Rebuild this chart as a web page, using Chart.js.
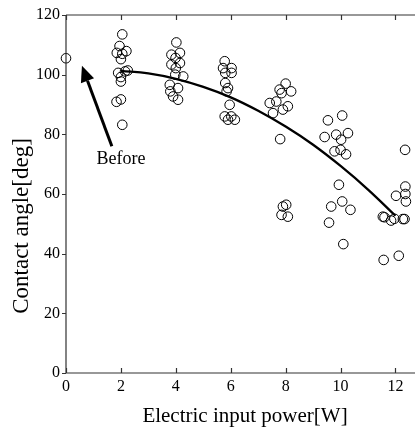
<!DOCTYPE html>
<html>
<head>
<meta charset="utf-8">
<script src="https://cdn.jsdelivr.net/npm/chart.js@4"></script>
<style>
  html, body { margin: 0; padding: 0; background: #fff; }
  #wrap { width: 415px; height: 428px; }
</style>
</head>
<body>
<div id="wrap"><canvas id="angleChart" width="415" height="428"></canvas></div>
<script>
const powerX = [
  0,
  2.05, 1.95, 1.85, 2.2, 2.0, 2.05, 1.9, 2.15, 2.0, 2.0, 1.84, 2.0, 2.05, 2.25,
  4.02, 3.84, 4.15, 3.99, 3.84, 4.15, 4.0, 4.27, 3.98, 3.78, 4.08, 3.8, 3.9, 4.08,
  5.78, 5.72, 6.03, 5.8, 6.03, 5.8, 5.9, 5.85, 5.96, 5.78, 6.02, 5.9, 6.15,
  8.0, 7.78, 8.2, 7.85, 7.66, 7.42, 8.08, 7.9, 7.54, 7.8, 8.02, 7.9, 7.85, 8.08,
  9.54, 10.06, 9.42, 9.84, 10.27, 10.02, 9.78, 10.0, 10.2, 9.94, 9.66, 10.06, 10.36, 9.58, 10.1,
  12.35, 12.36, 12.02, 12.36, 12.38, 11.54, 11.6, 11.84, 11.96, 12.27, 12.33, 11.57, 12.12
];
const angleY = [
  105.5,
  113.5, 109.6, 107.3, 107.9, 105.2, 107.0, 100.6, 101.1, 99.2, 97.7, 90.9, 91.7, 83.2, 101.4,
  110.8, 106.7, 107.3, 105.6, 103.4, 103.9, 102.2, 99.4, 100.0, 96.6, 95.5, 94.4, 92.7, 91.6,
  104.5, 102.2, 102.2, 100.6, 100.6, 97.2, 95.5, 94.4, 89.9, 86.0, 86.0, 84.9, 84.9,
  97.0, 95.0, 94.4, 93.8, 91.0, 90.5, 89.4, 88.3, 87.1, 78.4, 56.4, 55.8, 53.0, 52.4,
  84.7, 86.3, 79.1, 79.9, 80.4, 78.2, 74.3, 74.8, 73.3, 63.1, 55.8, 57.5, 54.7, 50.4, 43.2,
  74.8, 62.5, 59.4, 60.0, 57.5, 52.4, 52.2, 51.1, 51.7, 51.6, 51.6, 37.9, 39.3
];
// fitted curve, read at integer powers
const fitX = [2, 3, 4, 5, 6, 7, 8, 9, 10, 11, 12];
const fitY = [101.3, 100.4, 98.6, 95.9, 92.4, 87.9, 82.6, 76.5, 69.4, 61.5, 52.7];

const xTicks = [0, 2, 4, 6, 8, 10, 12];
const yTicks = [0, 20, 40, 60, 80, 100, 120];

const arrowFrom = { x: 1.67, y: 76 };
const arrowTo = { x: 0.58, y: 103 };
const noteLabel = 'Before';
const notePos = { x: 2.0, y: 71.5 };

const xTitle = 'Electric input power[W]';
const yTitle = 'Contact angle[deg]';

const serif = "'Liberation Serif', 'DejaVu Serif', serif";

const scatterPts = powerX.map((x, i) => ({ x: x, y: angleY[i] }));
const fitPts = fitX.map((x, i) => ({ x: x, y: fitY[i] }));

// frame, inward ticks, titles and the arrow note
const extrasPlugin = {
  id: 'extras',
  afterDatasetsDraw(chart) {
    const ctx = chart.ctx;
    const xs = chart.scales.x, ys = chart.scales.y;
    const area = chart.chartArea;
    ctx.save();
    ctx.strokeStyle = '#333';
    ctx.lineWidth = 1.2;
    ctx.beginPath();
    ctx.moveTo(area.left, area.top);
    ctx.lineTo(chart.width, area.top);
    ctx.moveTo(area.left, area.top);
    ctx.lineTo(area.left, area.bottom);
    ctx.lineTo(chart.width, area.bottom);
    xTicks.forEach(v => {
      const px = Math.round(xs.getPixelForValue(v)) + 0.5;
      ctx.moveTo(px, area.bottom);
      ctx.lineTo(px, area.bottom - 5);
      ctx.moveTo(px, area.top);
      ctx.lineTo(px, area.top + 5);
    });
    yTicks.forEach(v => {
      const py = Math.round(ys.getPixelForValue(v)) + 0.5;
      ctx.moveTo(area.left, py);
      ctx.lineTo(area.left - 4, py);
    });
    ctx.stroke();

    // arrow
    const x1 = xs.getPixelForValue(arrowFrom.x), y1 = ys.getPixelForValue(arrowFrom.y);
    const x2 = xs.getPixelForValue(arrowTo.x), y2 = ys.getPixelForValue(arrowTo.y);
    const ang = Math.atan2(y2 - y1, x2 - x1);
    const headLen = 16, headW = 7;
    const bx = x2 - headLen * Math.cos(ang), by = y2 - headLen * Math.sin(ang);
    ctx.strokeStyle = '#000';
    ctx.fillStyle = '#000';
    ctx.lineWidth = 3;
    ctx.beginPath();
    ctx.moveTo(x1, y1);
    ctx.lineTo(bx, by);
    ctx.stroke();
    ctx.beginPath();
    ctx.moveTo(x2, y2);
    ctx.lineTo(bx + headW * Math.sin(ang), by - headW * Math.cos(ang));
    ctx.lineTo(bx - headW * Math.sin(ang), by + headW * Math.cos(ang));
    ctx.closePath();
    ctx.fill();

    ctx.font = '18px ' + serif;
    ctx.textAlign = 'center';
    ctx.textBaseline = 'middle';
    ctx.fillText(noteLabel, xs.getPixelForValue(notePos.x), ys.getPixelForValue(notePos.y));

    // axis titles
    ctx.font = '21px ' + serif;
    ctx.textBaseline = 'alphabetic';
    ctx.fillText(xTitle, 245, 422);

    ctx.translate(22, 226);
    ctx.rotate(-Math.PI / 2);
    ctx.font = '23px ' + serif;
    ctx.textBaseline = 'middle';
    ctx.fillText(yTitle, 0, 0);
    ctx.restore();
  }
};

const ctx = document.getElementById('angleChart').getContext('2d');
new Chart(ctx, {
  type: 'scatter',
  data: {
    datasets: [
      {
        data: scatterPts,
        pointStyle: 'circle',
        pointRadius: 4.8,
        pointBorderWidth: 1,
        pointBorderColor: '#000',
        pointBackgroundColor: 'rgba(0,0,0,0)',
        showLine: false,
        clip: false
      },
      {
        data: fitPts,
        showLine: true,
        borderColor: '#000',
        borderWidth: 2.3,
        pointRadius: 0,
        tension: 0.4,
        fill: false
      }
    ]
  },
  options: {
    responsive: false,
    animation: false,
    events: [],
    layout: { padding: { top: 15, right: 0, left: 0, bottom: 0 } },
    plugins: { legend: { display: false }, tooltip: { enabled: false } },
    scales: {
      x: {
        type: 'linear',
        min: 0,
        max: 12.5,
        afterBuildTicks: s => { s.ticks = xTicks.map(v => ({ value: v })); },
        afterFit: s => { s.height = 55; s.paddingLeft = 0; s.paddingRight = 0; },
        grid: { display: false },
        border: { display: false },
        ticks: { color: '#000', font: { family: serif, size: 16 }, padding: -4, maxRotation: 0 },
        title: { display: false }
      },
      y: {
        type: 'linear',
        min: 0,
        max: 120,
        afterBuildTicks: s => { s.ticks = yTicks.map(v => ({ value: v })); },
        afterFit: s => { s.width = 66; s.paddingTop = 0; s.paddingBottom = 0; },
        grid: { display: false, drawTicks: false },
        border: { display: false },
        ticks: { color: '#000', font: { family: serif, size: 16 }, padding: 6 },
        title: { display: false }
      }
    }
  },
  plugins: [extrasPlugin]
});
</script>
</body>
</html>
